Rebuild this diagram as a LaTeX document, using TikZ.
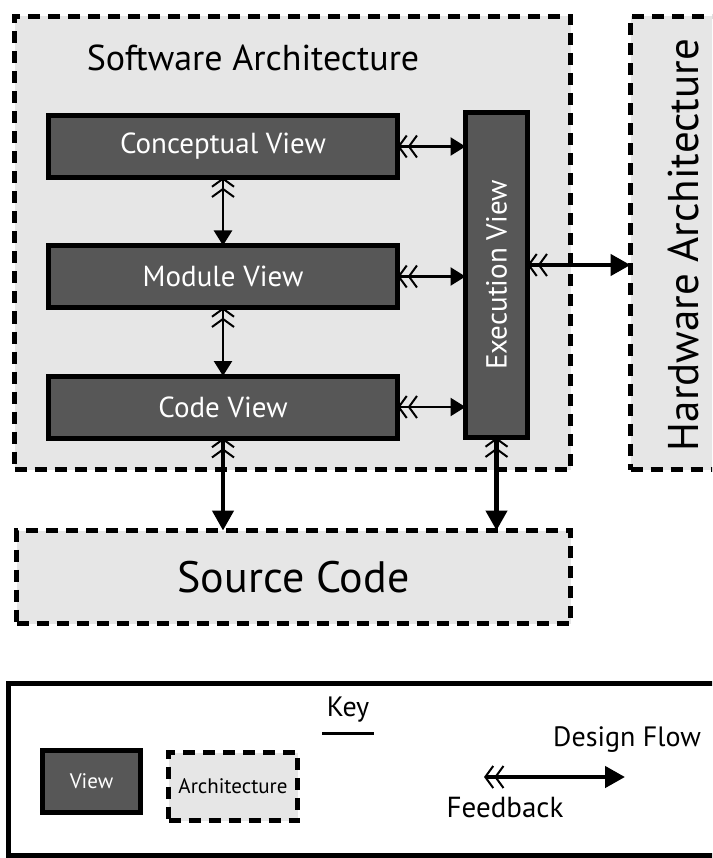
\documentclass[tikz,border=0pt]{standalone}
\usepackage{fontspec}
\setmainfont{PT Sans}
\usetikzlibrary{arrows.meta}
\definecolor{viewgray}{HTML}{575757}
\definecolor{archgray}{HTML}{E6E6E6}
\tikzset{
  view/.style={draw, line width=5pt, fill=viewgray, text=white, inner sep=0pt, outer sep=0pt, font=\fontsize{29}{32}\selectfont},
  arch/.style={draw, line width=5pt, dash pattern=on 12pt off 8pt, fill=archgray, inner sep=0pt, outer sep=0pt},
  feedback/.tip={Straight Barb[length=8pt, width=22pt, line width=2pt] Straight Barb[length=8pt, width=22pt, line width=2pt]},
  flow/.style={{feedback}-{Triangle[length=15pt, width=18pt]}, line width=2.5pt},
  bigflow/.style={{feedback}-{Triangle[length=20pt, width=21pt]}, line width=4.5pt},
}
\begin{document}
\begin{tikzpicture}[x=1pt, y=-1pt]
\useasboundingbox (0,0) rectangle (712,858);
\clip (0,0) rectangle (712,858);
\fill[white] (0,0) rectangle (712,858);
\node[arch, minimum width=556pt, minimum height=453pt] (swarch) at (292.5,243) {};
\node[font=\fontsize{36}{40}\selectfont] (swtitle) at (253,58) {Software Architecture};
\node[arch, minimum width=200pt, minimum height=453pt] (hw) at (730.5,243) {};
\node[rotate=90, font=\fontsize{43}{46}\selectfont] (hwtitle) at (683,245) {Hardware Architecture};
\node[arch, minimum width=554pt, minimum height=93pt, font=\fontsize{44}{48}\selectfont] (source) at (293.5,577) {Source Code};
\node[view, minimum width=349pt, minimum height=62pt] (conceptual) at (223,146.5) {Conceptual View};
\node[view, minimum width=349pt, minimum height=62pt] (module) at (223,276.5) {Module View};
\node[view, minimum width=349pt, minimum height=62pt] (code) at (223,407) {Code View};
\node[view, minimum width=62pt, minimum height=325pt] (exec) at (496.5,275) {};
\node[rotate=90, text=white, font=\fontsize{29}{32}\selectfont] (exectitle) at (exec) {Execution View};
\draw[flow] (conceptual.east) -- (conceptual.east -| exec.west);
\draw[flow] (module.east) -- (module.east -| exec.west);
\draw[flow] (code.east) -- (code.east -| exec.west);
\draw[flow] (conceptual.south) -- (module.north);
\draw[flow] (module.south) -- (code.north);
\draw[bigflow] ([yshift=10pt]exec.east) -- ([yshift=10pt]exec.east -| hw.west);
\draw[bigflow] (code.south) -- (code.south |- source.north);
\draw[bigflow] (exec.south) -- (exec.south |- source.north);
\draw[line width=5pt] (8,683) rectangle (760,855);
\node[font=\fontsize{28}{30}\selectfont] (keytitle) at (348,710) {Key};
\draw[line width=3pt] (322,733) -- (374,733);
\node[view, minimum width=98pt, minimum height=62pt, font=\fontsize{21}{24}\selectfont] (keyview) at (91.5,781.5) {View};
\node[arch, minimum width=129pt, minimum height=68pt, font=\fontsize{21}{24}\selectfont] (keyarch) at (233,786.5) {Architecture};
\coordinate (keyfb) at (484,777);
\coordinate (keydf) at (625,777);
\draw[bigflow] (keyfb) -- (keydf);
\node[font=\fontsize{28}{30}\selectfont] (keydflabel) at (627,740) {Design Flow};
\node[font=\fontsize{29}{32}\selectfont] (keyfblabel) at (505,808) {Feedback};
\end{tikzpicture}
\end{document}
